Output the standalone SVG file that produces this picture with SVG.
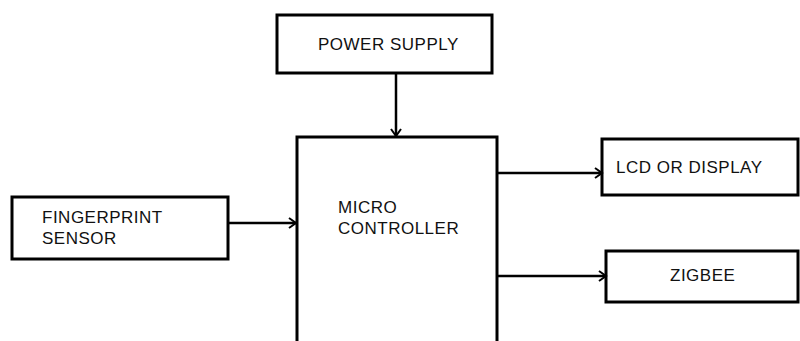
<svg xmlns="http://www.w3.org/2000/svg" width="800" height="341" viewBox="0 0 800 341">
<style>
.box{fill:#fff;stroke:#000;stroke-width:3}
.lbl{font-family:"Liberation Sans",Arial,sans-serif;font-size:17px;letter-spacing:0.5px;fill:#111}
.conn{stroke:#000;stroke-width:2.5;fill:none}
</style>
<defs>
<marker id="arr" markerWidth="10" markerHeight="12" refX="8" refY="6" orient="auto" markerUnits="userSpaceOnUse">
<path d="M1,1 L8,6 L1,11" fill="none" stroke="#000" stroke-width="2"/>
</marker>
</defs>
<rect width="800" height="341" fill="#fff"/>
<g id="power">
<rect class="box" x="277" y="15" width="215" height="58"/>
<text class="lbl" x="318" y="50">POWER SUPPLY</text>
</g>
<g id="mc">
<rect class="box" x="297" y="137" width="200" height="215"/>
<text class="lbl" x="338" y="213">MICRO<tspan x="338" dy="21">CONTROLLER</tspan></text>
</g>
<g id="fingerprint">
<rect class="box" x="12" y="197" width="216" height="62"/>
<text class="lbl" x="42" y="223">FINGERPRINT<tspan x="42" dy="21">SENSOR</tspan></text>
</g>
<g id="lcd">
<rect class="box" x="602" y="139" width="196" height="56"/>
<text class="lbl" x="616" y="173">LCD OR DISPLAY</text>
</g>
<g id="zigbee">
<rect class="box" x="606" y="251" width="192" height="51"/>
<text class="lbl" x="670" y="281">ZIGBEE</text>
</g>
<g id="connectors">
<line class="conn" x1="396" y1="73" x2="396" y2="136" marker-end="url(#arr)"/>
<line class="conn" x1="228" y1="223" x2="296" y2="223" marker-end="url(#arr)"/>
<line class="conn" x1="497" y1="173" x2="602" y2="173" marker-end="url(#arr)"/>
<line class="conn" x1="497" y1="276" x2="606" y2="276" marker-end="url(#arr)"/>
</g>
</svg>
